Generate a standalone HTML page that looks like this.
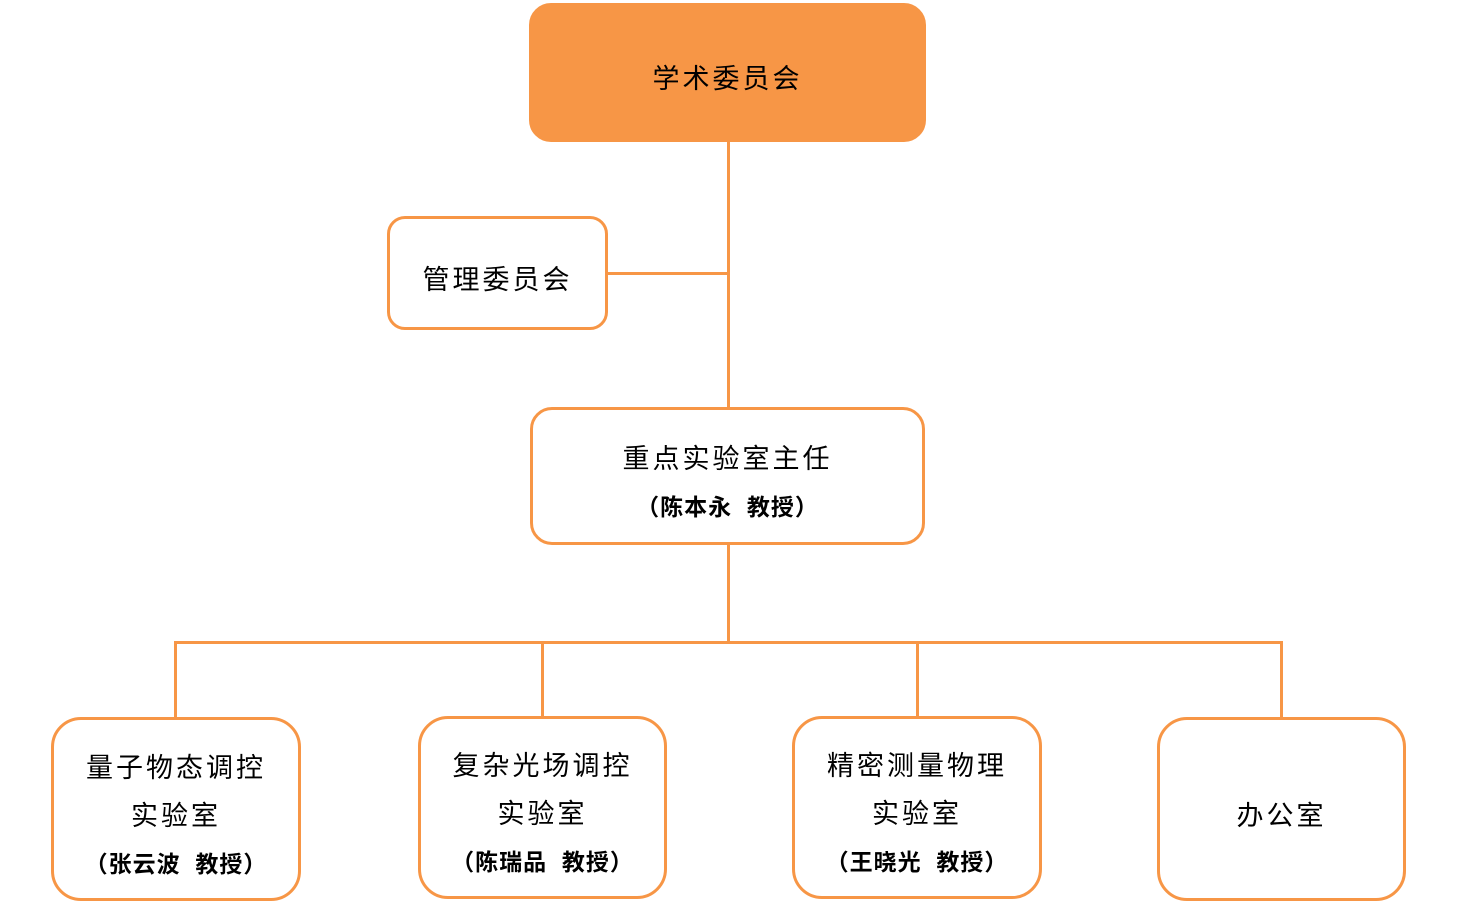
<!DOCTYPE html>
<html><head><meta charset="utf-8"><style>
body{margin:0;width:1466px;height:912px;background:#fff;position:relative;overflow:hidden;font-family:"Liberation Sans","Noto Sans CJK SC",sans-serif;color:#000}
.b{position:absolute;box-sizing:border-box;border:3px solid #f79646;background:#fff;display:flex;flex-direction:column;align-items:center;justify-content:center;padding-top:13px}
.t{font-size:27px;letter-spacing:3px;line-height:48px;white-space:nowrap}
.s{font-size:23px;font-weight:bold;letter-spacing:1px;line-height:48px;white-space:nowrap}
.l{position:absolute;background:#f79646}
</style></head><body>
<div class="l" style="left:727px;top:140px;width:3px;height:270px"></div>
<div class="l" style="left:606px;top:272px;width:123px;height:3px"></div>
<div class="l" style="left:727px;top:543px;width:3px;height:101px"></div>
<div class="l" style="left:174px;top:641px;width:1109px;height:3px"></div>
<div class="l" style="left:174px;top:641px;width:3px;height:79px"></div>
<div class="l" style="left:541px;top:641px;width:3px;height:78px"></div>
<div class="l" style="left:916px;top:641px;width:3px;height:78px"></div>
<div class="l" style="left:1280px;top:641px;width:3px;height:79px"></div>

<div class="b" style="left:529px;top:3px;width:397px;height:139px;background:#f79646;border-radius:22px"><div class="t">学术委员会</div></div>
<div class="b" style="left:387px;top:216px;width:221px;height:114px;border-radius:18px"><div class="t">管理委员会</div></div>
<div class="b" style="left:530px;top:407px;width:395px;height:138px;border-radius:22px"><div class="t">重点实验室主任</div><div class="s">（陈本永&nbsp; 教授）</div></div>

<div class="b" style="left:51px;top:717px;width:250px;height:184px;border-radius:30px"><div class="t">量子物态调控</div><div class="t">实验室</div><div class="s">（张云波&nbsp; 教授）</div></div>
<div class="b" style="left:418px;top:716px;width:249px;height:183px;border-radius:30px"><div class="t">复杂光场调控</div><div class="t">实验室</div><div class="s">（陈瑞品&nbsp; 教授）</div></div>
<div class="b" style="left:792px;top:716px;width:250px;height:183px;border-radius:30px"><div class="t">精密测量物理</div><div class="t">实验室</div><div class="s">（王晓光&nbsp; 教授）</div></div>
<div class="b" style="left:1157px;top:717px;width:249px;height:184px;border-radius:30px"><div class="t">办公室</div></div>
</body></html>
